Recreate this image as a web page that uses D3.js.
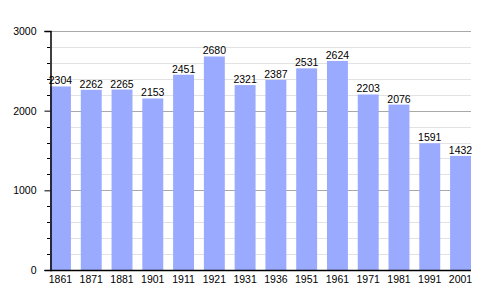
<!DOCTYPE html>
<html>
<head>
<meta charset="utf-8">
<script src="https://cdn.jsdelivr.net/npm/d3@7"></script>
<style>
  body { margin: 0; background: #fff; }
  text { font-family: "Liberation Sans", Arial, sans-serif; fill: #000; }
</style>
</head>
<body>
<svg id="chart" width="500" height="300"></svg>
<script>
// Census years and population
var years = ["1861", "1871", "1881", "1901", "1911", "1921", "1931", "1936", "1951", "1961", "1971", "1981", "1991", "2001"];
var population = [2304, 2262, 2265, 2153, 2451, 2680, 2321, 2387, 2531, 2624, 2203, 2076, 1591, 1432];
var majorTicks = [0, 1000, 2000, 3000];

var svg = d3.select("#chart");
var plotLeft = 50, plotRight = 471, plotTop = 31, plotBottom = 270;

var x = d3.scaleBand()
    .domain(years)
    .range([plotLeft, plotRight])
    .paddingInner(0.32)
    .paddingOuter(0);

var y = d3.scaleLinear()
    .domain([0, 3000])
    .range([plotBottom, plotTop]);

var minorTicks = d3.range(0, 3001, 200).filter(function (v) { return v % 1000 != 0; });

// Minor gridlines
svg.append("g")
    .selectAll("line")
    .data(minorTicks)
    .enter()
    .append("line")
    .attr("x1", plotLeft).attr("x2", plotRight)
    .attr("y1", function (d) { return Math.round(y(d)) + 0.5; })
    .attr("y2", function (d) { return Math.round(y(d)) + 0.5; })
    .attr("stroke", "#e2e2e2");

// Major gridlines
svg.append("g")
    .selectAll("line")
    .data(majorTicks.filter(function (d) { return d > 0; }))
    .enter()
    .append("line")
    .attr("x1", plotLeft).attr("x2", plotRight)
    .attr("y1", function (d) { return Math.round(y(d)) + 0.5; })
    .attr("y2", function (d) { return Math.round(y(d)) + 0.5; })
    .attr("stroke", "#a8a8a8");

// Bars
svg.append("g")
    .selectAll("rect")
    .data(population)
    .enter()
    .append("rect")
    .attr("x", function (d, i) { return x(years[i]); })
    .attr("y", function (d) { return y(d); })
    .attr("width", x.bandwidth())
    .attr("height", function (d) { return plotBottom - y(d); })
    .attr("fill", "#99aaff");

// Value labels
svg.append("g")
    .selectAll("text")
    .data(population)
    .enter()
    .append("text")
    .attr("x", function (d, i) { return x(years[i]) + x.bandwidth() / 2; })
    .attr("y", function (d) { return y(d) - 2; })
    .attr("text-anchor", "middle")
    .attr("font-size", "10.5px")
    .text(function (d) { return d; });

// Y axis
var yAxis = svg.append("g")
    .attr("transform", "translate(" + (plotLeft + 0.5) + ",0)")
    .call(d3.axisLeft(y).tickValues(majorTicks).tickFormat(d3.format("d")).tickSize(6).tickPadding(8));
yAxis.select(".domain").attr("stroke", "#000").attr("stroke-width", 1.5);
yAxis.selectAll(".tick text").attr("font-size", "10.5px").attr("font-family", "Liberation Sans, Arial, sans-serif");

svg.append("g")
    .selectAll("line")
    .data(minorTicks)
    .enter()
    .append("line")
    .attr("x1", plotLeft - 3).attr("x2", plotLeft)
    .attr("y1", function (d) { return Math.round(y(d)) + 0.5; })
    .attr("y2", function (d) { return Math.round(y(d)) + 0.5; })
    .attr("stroke", "#000");

// X axis
svg.append("line")
    .attr("x1", plotLeft).attr("x2", plotRight)
    .attr("y1", plotBottom + 0.5).attr("y2", plotBottom + 0.5)
    .attr("stroke", "#000")
    .attr("stroke-width", 1.5);

svg.append("g")
    .selectAll("text")
    .data(years)
    .enter()
    .append("text")
    .attr("x", function (d) { return x(d) + x.bandwidth() / 2; })
    .attr("y", plotBottom + 13)
    .attr("text-anchor", "middle")
    .attr("font-size", "10.5px")
    .text(function (d) { return d; });
</script>
</body>
</html>
